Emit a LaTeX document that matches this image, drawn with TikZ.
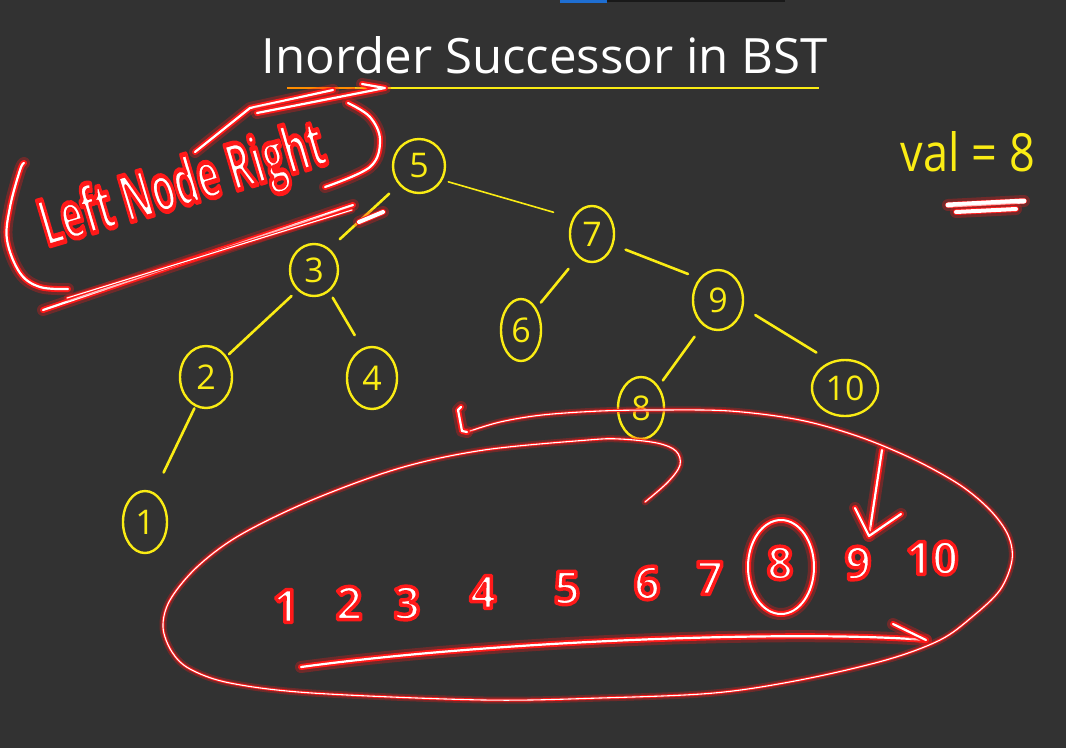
\documentclass[tikz,border=0pt]{standalone}
\usepackage{fontspec}
\usepackage{graphicx}
\usetikzlibrary{calc,shapes.geometric}
\newfontfamily\hand{Open Sans}
\definecolor{bg}{RGB}{50,50,50}
\definecolor{ylw}{RGB}{250,236,20}
\definecolor{glowred}{RGB}{255,25,25}
\definecolor{uiblue}{RGB}{30,110,210}
\definecolor{uidark}{RGB}{25,25,25}
\newcommand\glowtxt[2][3.5]{\special{pdf:literal direct q 2 Tr #1 w 1 j}\textcolor{white}{\special{pdf:literal direct 1 0.1 0.1 RG}\hand\bfseries #2}\special{pdf:literal direct Q}}
\tikzset{
  tnode/.style={ellipse, draw=ylw, line width=2.4pt, inner sep=0pt, text=ylw, font=\hand\fontsize{34}{34}\selectfont},
  tedge/.style={draw=ylw, line width=2.6pt, line cap=round},
  glowA/.style={draw=white, line width=2.2pt, line cap=round, line join=round,
    preaction={draw=glowred, line width=12pt, opacity=0.3, line cap=round, line join=round},
    preaction={draw=glowred, line width=6pt, line cap=round, line join=round}},
  glowB/.style={draw=white, line width=1.1pt, line cap=round, line join=round,
    preaction={draw=glowred, line width=7pt, opacity=0.3, line cap=round, line join=round},
    preaction={draw=glowred, line width=3pt, line cap=round, line join=round}},
  numtxt/.style={inner sep=0pt, font=\fontsize{46}{46}\selectfont},
}
\begin{document}
\begin{tikzpicture}[x=1pt,y=-1pt]
\fill[bg] (0,0) rectangle (1066,748);
\useasboundingbox (0,0) rectangle (1066,748);
\fill[uiblue] (560,0) rectangle (607,3);
\fill[uidark] (607,0) rectangle (785,2);

% title
\node[anchor=base, inner sep=0pt, text=white] (title) at (545,73) {\resizebox{566pt}{37pt}{\hand Inorder Successor in BST}};
\coordinate (ulA) at (287,88);
\coordinate (ulB) at (355,88);
\coordinate (ulC) at (819,88);
\draw[ylw, line width=2pt] (ulB) -- (ulC);
\draw[orange!90!yellow, line width=2pt] (ulA) -- (ulB);

% val = 8
\node[anchor=base, inner sep=0pt, text=ylw] (val) at (968,171) {\resizebox{134pt}{40pt}{\hand val = 8}};

% tree nodes
\node[tnode, minimum width=52pt, minimum height=54pt] (n5) at (419,166) {5};
\node[tnode, minimum width=44pt, minimum height=56pt] (n7) at (592,234) {7};
\node[tnode, minimum width=48pt, minimum height=52pt] (n3) at (314,270) {3};
\node[tnode, minimum width=50pt, minimum height=60pt] (n9) at (718,300) {9};
\node[tnode, minimum width=40pt, minimum height=62pt] (n6) at (521,330) {6};
\node[tnode, minimum width=52pt, minimum height=62pt] (n2) at (206,377) {2};
\node[tnode, minimum width=50pt, minimum height=62pt] (n4) at (372,378) {4};
\node[tnode, minimum width=46pt, minimum height=62pt] (n8) at (641,408) {8};
\node[tnode, minimum width=66pt, minimum height=56pt] (n10) at (845,388) {10};
\node[tnode, minimum width=44pt, minimum height=62pt] (n1) at (145,522) {1};

% tree edges
\draw[tedge, line width=1.6pt, shorten <=6pt, shorten >=20pt] (n5.-31) -- (n7.140);
\draw[tedge, shorten <=13pt, shorten >=14pt] (n5.223) -- (n3.54);
\draw[tedge, shorten <=8pt, shorten >=3pt] (n3.231) -- (n2.45);
\draw[tedge, shorten <=7pt, shorten >=15pt] (n3.-55) -- (n4.108);
\draw[tedge, shorten <=2pt, shorten >=22pt] (n2.250) -- (n1.73);
\draw[tedge, shorten <=13pt, shorten >=12pt] (n7.-27) -- (n9.131);
\draw[tedge, shorten <=15pt, shorten >=7pt] (n7.239) -- (n6.55);
\draw[tedge, shorten <=14pt, shorten >=7pt] (n9.239) -- (n8.51);
\draw[tedge, shorten <=14pt, shorten >=17pt] (n9.-17.5) -- (n10.118);

% Left Node Right annotation
\node[anchor=base, inner sep=0pt, rotate=16.5] (lnr) at (188,205) {\resizebox{295pt}{50pt}{\fontsize{40}{40}\selectfont\glowtxt[3]{Left Node Right}}};
\draw[glowA] plot[smooth, tension=0.6] coordinates {(24,163) (20,170) (10,207) (7,240) (20,273) (40,287) (68,289)};
\draw[glowA] plot[smooth, tension=0.6] coordinates {(348,103) (370,117) (380,140) (370,167) (325,187)};
\draw[glowA] (195,152) -- (250,108) -- (333,90);
\draw[glowA] (257,113) -- (385,88) -- (362,84);
\draw[glowA] (43,310) -- (353,205);
\draw[glowB] (67,298) -- (352,210);
\draw[glowA, line width=4pt] (359,222) -- (383,212);

% underline under val
\draw[glowA, line width=5pt] (948,205) -- (1024,201);
\draw[glowA, line width=4pt] (956,212) -- (1016,209);

% inorder sequence
\node[numtxt] (s1) at (286,606) {\glowtxt{1}};
\node[numtxt] (s2) at (349,603) {\glowtxt{2}};
\node[numtxt] (s3) at (407,603) {\glowtxt{3}};
\node[numtxt] (s4) at (483,592) {\glowtxt{4}};
\node[numtxt] (s5) at (567,588) {\glowtxt{5}};
\node[numtxt] (s6) at (647,583) {\glowtxt{6}};
\node[numtxt] (s7) at (710,578) {\glowtxt{7}};
\node[numtxt] (s8) at (780,563) {\glowtxt{8}};
\node[numtxt] (s9) at (858,563) {\glowtxt{9}};
\node[numtxt] (s10) at (932,558) {\glowtxt{10}};
\draw[glowA, line width=2pt] ($(s8)+(1,4)$) ellipse [x radius=33, y radius=47];

% down arrow onto 9
\coordinate (dA) at (882,450);
\coordinate (dT) at (869,536);
\draw[glowA] (dA) -- (dT);
\draw[glowA] (855,508) -- (dT) -- (901,514);

% bottom arrow
\coordinate (bA) at (301,667);
\coordinate (bT) at (926,640);
\draw[glowA] (bA) .. controls (500,640) and (800,630) .. (bT);
\draw[glowA] (893,624) -- (bT);

% big spiral loop
\draw[glowB] plot[smooth, tension=0.55] coordinates {
(645,502) (668,482) (680,465) (676,451) (657,443) (620,439) (588,440) (484,450) (400,468) (312,500) (240,535) (197,567) (170,600) (163,627) (172,652) (190,669) (230,683) (312,693) (484,700) (600,698) (714,693) (800,680) (886,660) (940,640) (972,617) (1000,590) (1012,560) (1008,535) (990,510) (960,485) (915,460) (860,437) (800,420) (730,411) (657,410) (600,411) (542,415) (500,422) (467,432)};
\draw[glowA] (467,432) -- (462,431) -- (458,410) -- (461,407);
\end{tikzpicture}
\end{document}
